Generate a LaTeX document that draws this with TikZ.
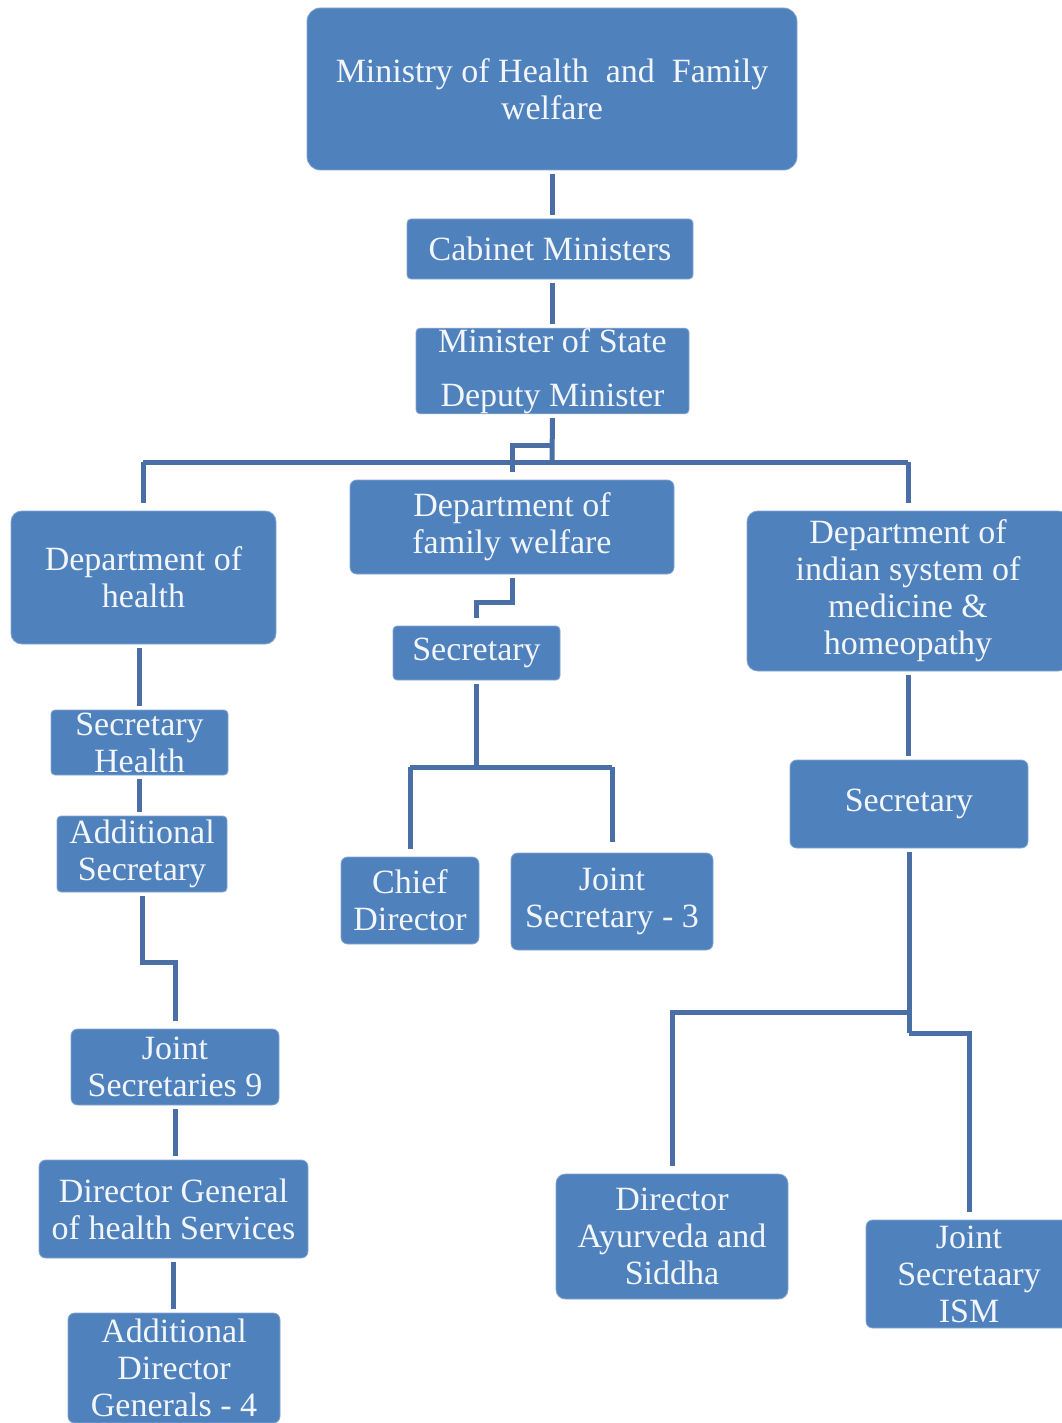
\documentclass[tikz,border=0pt]{standalone}
\usepackage{fontspec}
\setmainfont{Liberation Serif}
\definecolor{boxblue}{HTML}{4F81BD}
\definecolor{linkblue}{HTML}{4A6EA6}
\definecolor{txt}{HTML}{F2F6FB}
\begin{document}
\begin{tikzpicture}[x=0.75pt,y=-0.75pt,
  box/.style={fill=boxblue, draw=boxblue!70!white, line width=0.6pt, rounded corners=5pt,
    text=txt, align=center, inner sep=0pt,
    font=\fontsize{25.5pt}{27.75pt}\selectfont},
  bx/.style 2 args={minimum width=#1*0.75pt, minimum height=#2*0.75pt},
  conn/.style={draw=linkblue, line width=3.75pt},
  sh/.style={shorten <=3pt, shorten >=3pt}]
\useasboundingbox (0,0) rectangle (1061,1423);
\fill[white] (0,0) rectangle (1061,1423);

% nodes
\node[box, bx={490}{162}, rounded corners=10pt] (min) at (552,89) {Ministry of Health\ \ and\ \ Family\\welfare};
\node[box, bx={286}{60}, rounded corners=3pt] (cab) at (550,249) {Cabinet Ministers};
\node[box, bx={273}{84}, rounded corners=3pt] (mos) at (552.5,371) {Minister of State\\[13pt]Deputy Minister};
\node[box, bx={265}{133}, rounded corners=8pt] (dh) at (143.5,577.5) {Department of\\health};
\node[box, bx={324}{94}] (dfw) at (512,527) {Department of\\family welfare};
\node[box, bx={322}{160}, rounded corners=8pt] (dism) at (908,591) {Department of\\indian system of\\medicine \&\\homeopathy};
\node[box, bx={167}{54}, rounded corners=3pt] (sfw) at (476.5,653) {Secretary};
\node[box, bx={177}{65}, rounded corners=3pt] (sh) at (139.5,742.5) {Secretary\\Health};
\node[box, bx={170}{76}, rounded corners=3pt] (as) at (142,854) {Additional\\Secretary};
\node[box, bx={138}{87}] (cd) at (410,900.5) {Chief\\Director};
\node[box, bx={202}{97}] (js3) at (612,901.5) {Joint\\Secretary - 3};
\node[box, bx={238}{88}] (sism) at (909,804) {Secretary};
\node[box, bx={208}{76}] (js9) at (175,1067) {Joint\\Secretaries 9};
\node[box, bx={269}{98}] (dg) at (173.5,1209) {Director General\\of health Services};
\node[box, bx={212}{110}] (adg) at (174,1368) {Additional\\Director\\Generals - 4};
\node[box, bx={232}{125}, rounded corners=7pt] (das) at (672,1236.5) {Director\\Ayurveda and\\Siddha};
\node[box, bx={206}{108}] (jsism) at (969,1274) {Joint\\Secretaary\\ISM};

% junction coordinates
\coordinate (bar) at (552,462);
\coordinate (barL) at (143,462);
\coordinate (barR) at (908,462);
\coordinate (j1) at (552,445);
\coordinate (j2) at (512,602);
\coordinate (j3) at (476.5,767);
\coordinate (j3L) at (410,767);
\coordinate (j3R) at (612,767);
\coordinate (j4) at (142,962);
\coordinate (j4R) at (175,962);
\coordinate (j5) at (909,1012);
\coordinate (j5L) at (672,1012);
\coordinate (j6) at (909,1033);
\coordinate (j6R) at (969,1033);

% connectors
\draw[conn, sh] (min.south) -- (min.south |- cab.north);
\draw[conn, sh] (mos.north |- cab.south) -- (mos.north);
\draw[conn, shorten <=3pt] (mos.south) -- (bar);
\draw[conn] (barL) -- (barR);
\draw[conn, shorten >=6pt] (barL) -- (barL |- dh.north);
\draw[conn, shorten >=6pt] (barR) -- (barR |- dism.north);
\draw[conn, shorten >=6pt] (j1) -- (j1 -| dfw.north) -- (dfw.north);
\draw[conn, shorten <=3pt, shorten >=6pt] (dfw.south) -- (j2) -- (j2 -| sfw.north) -- (sfw.north);
\draw[conn, shorten <=3pt] (sfw.south) -- (j3);
\draw[conn] (j3L) -- (j3R);
\draw[conn, shorten >=6pt] (j3L) -- (cd.north);
\draw[conn, shorten >=8pt] (j3R) -- (js3.north);
\draw[conn, sh] (dh.south -| sh.north) -- (sh.north);
\draw[conn, sh] (sh.south) -- (sh.south |- as.north);
\draw[conn, shorten <=3pt, shorten >=6pt] (as.south) -- (j4) -- (j4R) -- (js9.north);
\draw[conn, sh] (js9.south) -- (js9.south |- dg.north);
\draw[conn, sh] (dg.south) -- (dg.south |- adg.north);
\draw[conn, sh] (dism.south) -- (dism.south |- sism.north);
\draw[conn, shorten <=3pt] (sism.south) -- (j6);
\draw[conn, shorten >=6pt] (j5) -- (j5L) -- (das.north);
\draw[conn, shorten >=6pt] (j6) -- (j6R) -- (jsism.north);
\end{tikzpicture}
\end{document}
